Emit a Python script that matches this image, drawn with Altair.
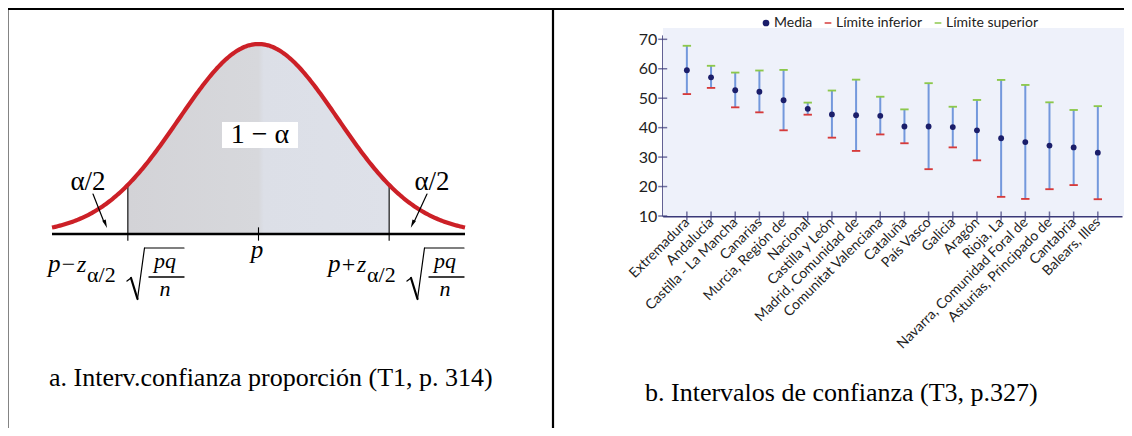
import altair as alt
import pandas as pd
import numpy as np

# ---------------- data: panel b (error bars) ----------------
regiones = ["Extremadura", "Andalucía", "Castilla - La Mancha", "Canarias",
            "Murcia, Región de", "Nacional", "Castilla y León", "Madrid, Comunidad de",
            "Comunitat Valenciana", "Cataluña", "País Vasco", "Galicia", "Aragón",
            "Rioja, La", "Navarra, Comunidad Foral de", "Asturias, Principado de",
            "Cantabria", "Balears, Illes"]
media = [59.5, 57.1, 52.7, 52.2, 49.3, 46.4, 44.5, 44.2, 44.0, 40.4, 40.4, 40.2,
         39.1, 36.4, 35.1, 33.9, 33.3, 31.5]
lim_inf = [51.4, 53.5, 46.9, 45.2, 39.1, 44.4, 36.6, 32.1, 37.7, 34.7, 25.9, 33.3,
           28.9, 16.5, 15.8, 19.1, 20.5, 15.7]
lim_sup = [67.8, 61.0, 58.7, 59.4, 59.6, 48.5, 52.6, 56.3, 50.5, 46.2, 55.1, 47.1,
           49.4, 56.2, 54.5, 48.6, 46.0, 47.3]
y_ticks = [10, 20, 30, 40, 50, 60, 70]
series = ["Media", "Límite inferior", "Límite superior"]

# ---------------- data: panel a (normal curve) ----------------
z_crit = 1.645
u_limit = 2.6

caption_a = "a. Interv.confianza proporción (T1, p. 314)"
caption_b = "b. Intervalos de confianza (T3, p.327)"

W, H = 1116, 420
OX, OY = 8, 8


def vx(px):
    return px - OX


def vy(py):
    return py - OY


one = pd.DataFrame({"k": [0]})
SERIF = "Liberation Serif"


def txt(s, px, py, size, italic=False, align="left", font=SERIF,
        color="black", baseline="alphabetic"):
    return alt.Chart(pd.DataFrame({"t": [s]})).mark_text(
        align=align, baseline=baseline, font=font, fontSize=size,
        fontStyle="italic" if italic else "normal", color=color
    ).encode(text="t:N", x=alt.value(vx(px)), y=alt.value(vy(py)))


def seg(x1, y1, x2, y2, w=1.5, color="black"):
    return alt.Chart(one).mark_rule(color=color, strokeWidth=w, strokeCap="round").encode(
        x=alt.value(vx(x1)), y=alt.value(vy(y1)), x2=alt.value(vx(x2)), y2=alt.value(vy(y2)))


def formula(x0, sign):
    """p -/+ z_{a/2} sqrt(pq/n), drawn from text pieces and strokes."""
    xr = x0 + 78  # radical start
    return [
        txt("p", x0 - 1, 272, 25, italic=True),
        txt(sign, x0 + 19.5, 272, 24, align="center"),
        txt("z", x0 + 28, 272, 24, italic=True),
        txt("α/2", x0 + 38, 282, 22),
        seg(xr, 281, xr + 4, 278, w=1.3),
        seg(xr + 4, 278, xr + 10.5, 299, w=2.2),
        seg(xr + 10.5, 299, xr + 17.5, 248, w=1.2),
        seg(xr + 17.5, 248, xr + 57, 248, w=1.2),
        txt("pq", xr + 38, 268, 22, italic=True, align="center"),
        seg(xr + 22, 277, xr + 57, 277, w=1.4),
        txt("n", xr + 38, 296, 22, italic=True, align="center"),
    ]


# ---------------- decoration: table borders, captions ----------------
deco = alt.layer(
    alt.Chart(one).mark_rect(color="#eef1fa").encode(
        x=alt.value(vx(663)), x2=alt.value(vx(1126)), y=alt.value(vy(28)), y2=alt.value(vy(216))),
    seg(0 + OX, 8.8, W + OX, 8.8, w=2.4),
    seg(7.2, 8, 7.2, H + OY, w=2.4),
    seg(553, 8, 553, H + OY, w=2.2),
    txt(caption_a, 49, 386, 26),
    txt(caption_b, 645, 401, 26),
)

# ---------------- panel a ----------------
u_grid = np.linspace(-u_limit, u_limit, 261)
curve = pd.DataFrame({"u": u_grid, "d": np.exp(-u_grid ** 2 / 2)})
u_area = np.linspace(-z_crit, z_crit, 161)
area = pd.DataFrame({"u": u_area, "d": np.exp(-u_area ** 2 / 2)})

xs_l = alt.Scale(domain=[-u_limit, u_limit], range=[vx(52), vx(465)], nice=False, zero=False)
ys_l = alt.Scale(domain=[0, 1], range=[vy(234), vy(44)], nice=False, zero=False)
XL = lambda f: alt.X(f, type="quantitative", scale=xs_l, axis=None)
YL = lambda f: alt.Y(f, type="quantitative", scale=ys_l, axis=None)

edges = pd.DataFrame({"u": [-z_crit, z_crit], "lo": [-0.035, -0.035],
                      "hi": list(np.exp(-np.array([z_crit, z_crit]) ** 2 / 2))})
base = pd.DataFrame({"u0": [-u_limit], "u1": [u_limit], "d": [0.0]})
ptick = pd.DataFrame({"u": [0.0], "lo": [-0.035], "hi": [0.035]})

shade = alt.Gradient(gradient="linear", x1=0, x2=1, y1=0, y2=0, stops=[
    alt.GradientStop(color="#d3d3d7", offset=0),
    alt.GradientStop(color="#d7d8dc", offset=0.5),
    alt.GradientStop(color="#dcdfe7", offset=0.52),
    alt.GradientStop(color="#dee1e9", offset=1),
])

left = alt.layer(
    alt.Chart(area).mark_area(color=shade).encode(x=XL("u"), y=YL("d")),
    alt.Chart(edges).mark_rule(color="black", strokeWidth=1.1).encode(x=XL("u"), y=YL("lo"), y2="hi"),
    alt.Chart(base).mark_rule(color="black", strokeWidth=2.6).encode(x=XL("u0"), x2="u1", y=YL("d")),
    alt.Chart(curve).mark_line(color="#cc2027", strokeWidth=4.2).encode(x=XL("u"), y=YL("d")),
    alt.Chart(ptick).mark_rule(color="black", strokeWidth=1.1).encode(x=XL("u"), y=YL("lo"), y2="hi"),
)

arrow_head = "M-0.45,-1L0.45,-1L0,1Z"
annot = alt.layer(
    alt.Chart(one).mark_rect(color="white").encode(
        x=alt.value(vx(222)), x2=alt.value(vx(298)), y=alt.value(vy(122)), y2=alt.value(vy(148))),
    txt("1 − α", 260, 135, 28, align="center", baseline="middle"),
    txt("α/2", 88, 190, 27, align="center"),
    txt("α/2", 432, 190, 27, align="center"),
    seg(93, 194, 104, 222, w=1.2),
    seg(427, 194, 414, 222, w=1.2),
    alt.Chart(one).mark_point(shape=arrow_head, filled=True, size=70, angle=339,
                              color="black", opacity=1).encode(
        x=alt.value(vx(105.5)), y=alt.value(vy(224))),
    alt.Chart(one).mark_point(shape=arrow_head, filled=True, size=70, angle=24,
                              color="black", opacity=1).encode(
        x=alt.value(vx(412.5)), y=alt.value(vy(224))),
    txt("p", 257, 258, 25, italic=True, align="center"),
    *formula(49, "−"),
    *formula(329, "+"),
)

# ---------------- panel b ----------------
long_rows = []
for r, m, lo, hi in zip(regiones, media, lim_inf, lim_sup):
    long_rows += [(r, "Media", m), (r, "Límite inferior", lo), (r, "Límite superior", hi)]
pts = pd.DataFrame(long_rows, columns=["region", "serie", "valor"])
ci = pd.DataFrame({"region": regiones, "inf": lim_inf, "sup": lim_sup})
yt = pd.DataFrame({"v": y_ticks})

axis_col = "#3a3978"
px_per_unit = 2.945
xs_r = alt.Scale(type="point", domain=regiones, range=[vx(662.7), vx(1122)], padding=1)
ys_r = alt.Scale(domain=[10, 71.5], range=[vy(216), vy(216 - 61.5 * px_per_unit)],
                 nice=False, zero=False)
x_axis = alt.Axis(orient="bottom", offset=-(H - vy(216)), labelAngle=-45, labelAlign="right",
                  labelBaseline="middle", labelFont="Lato", labelFontSize=14,
                  labelColor="#1e1e1e", domainColor=axis_col, domainWidth=2, ticks=False,
                  labelPadding=4, title=None, labelOverlap=False, grid=False)
y_axis = alt.Axis(orient="left", offset=-vx(662.7), values=y_ticks, ticks=False, labelPadding=6,
                  labelFont="Lato", labelFontSize=16, labelColor="#1e1e1e",
                  domainColor=axis_col, domainWidth=2, grid=False, title=None)
XR = lambda f: alt.X(f, type="nominal", scale=xs_r, axis=x_axis, sort=regiones)
YR = lambda f: alt.Y(f, type="quantitative", scale=ys_r, axis=y_axis)

dash = "M-1,-0.22H1V0.22H-1Z"
leg = alt.Legend(orient="none", legendX=vx(759), legendY=vy(16), direction="horizontal",
                 title=None, labelFont="Lato", labelFontSize=14, labelColor="#222222",
                 symbolSize=45, columnPadding=8, labelOffset=1, padding=0)

right = alt.layer(
    alt.Chart(ci).mark_rule(color="#7398dc", strokeWidth=2).encode(
        x=XR("region"), y=YR("inf"), y2="sup"),
    alt.Chart(pd.DataFrame({"region": regiones})).mark_tick(
        orient="vertical", size=9, thickness=1.5, color=axis_col).encode(
        x=XR("region"), y=alt.value(vy(216))),
    alt.Chart(yt).mark_tick(orient="horizontal", size=9, thickness=1.5, color=axis_col).encode(
        y=YR("v"), x=alt.value(vx(662.7))),
    alt.Chart(pts).mark_point(filled=True, opacity=1).encode(
        x=XR("region"), y=YR("valor"),
        color=alt.Color("serie:N", scale=alt.Scale(domain=series,
                                                   range=["#1b1e6a", "#d63a3a", "#8cc84b"]),
                        legend=leg),
        shape=alt.Shape("serie:N", scale=alt.Scale(domain=series,
                                                   range=["circle", dash, dash]),
                        legend=leg),
        size=alt.condition(alt.datum.serie == "Media", alt.value(34), alt.value(70)),
    ),
)

chart = alt.layer(deco, left, annot, right).resolve_scale(
    x="independent", y="independent"
).properties(
    width=W, height=H, padding=0, autosize=alt.AutoSizeParams(type="none")
).configure_view(stroke=None).configure(background="white")

chart.save("out.html", embed_options={"renderer": "svg", "actions": False})
